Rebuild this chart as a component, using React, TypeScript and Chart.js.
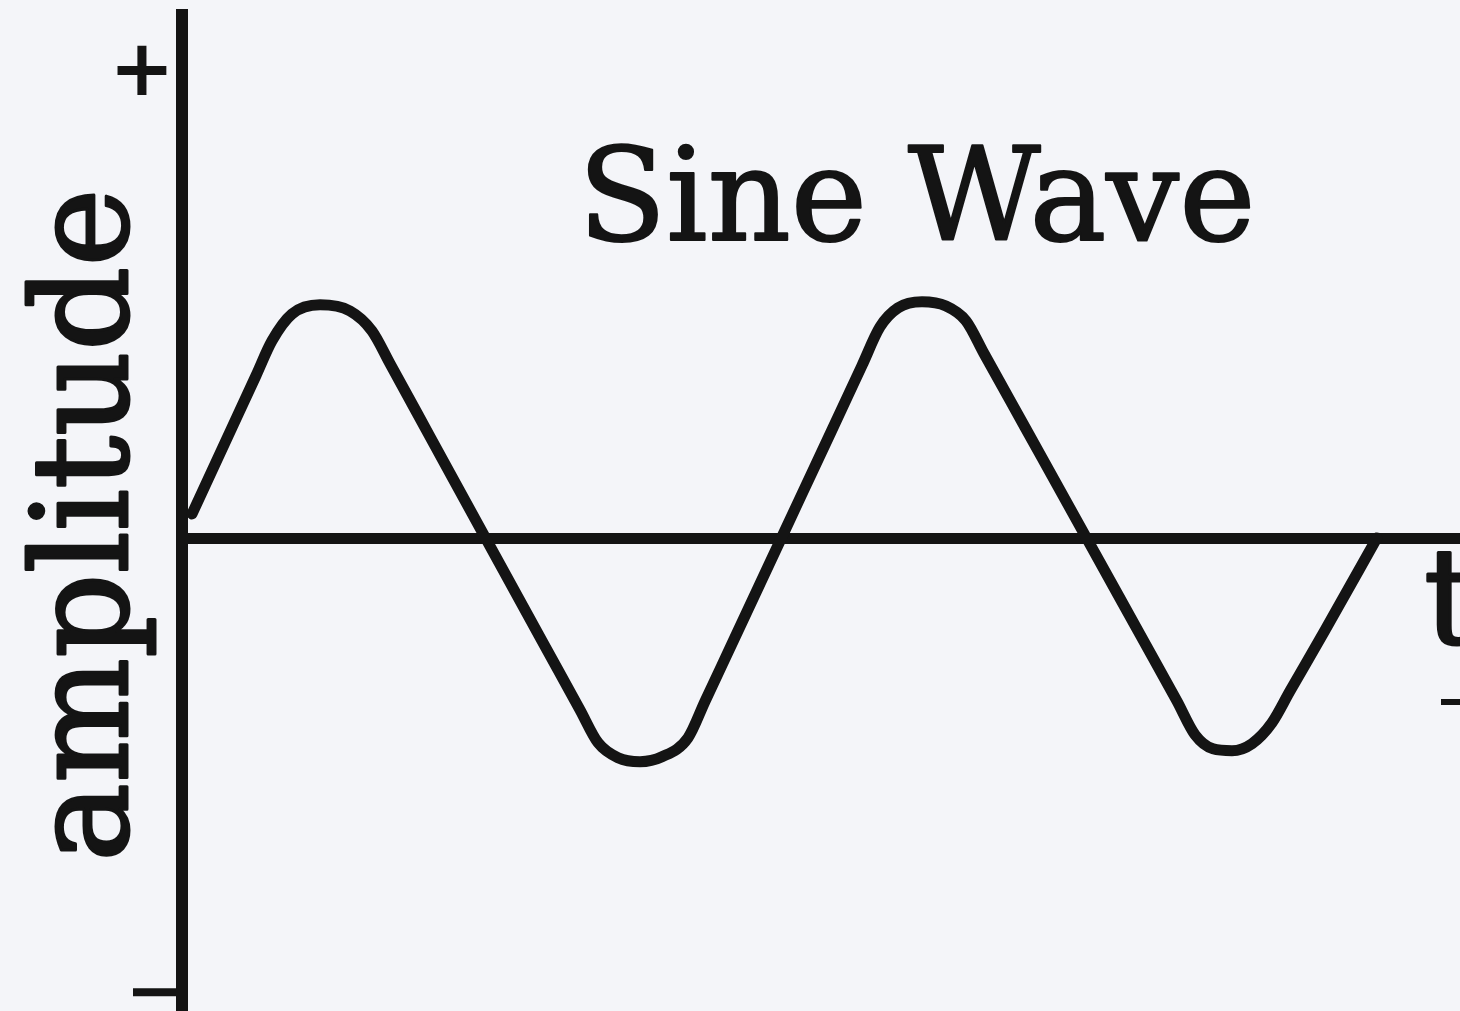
import { useEffect, useRef } from "react";
import { Chart, registerables } from "chart.js";

Chart.register(...registerables);

// Hand-traced wave: time (arbitrary units) and amplitude
const timeValues = [
  0.10, 0.50, 0.74, 0.90, 1.10, 1.38, 1.68, 1.90, 2.08, 2.47, 3.04, 3.60, 3.98,
  4.16, 4.36, 4.58, 4.80, 5.06, 5.23, 5.54, 5.99, 6.48, 6.80,
  6.98, 7.16, 7.40, 7.64, 7.84, 8.02, 8.43, 9.05, 9.58, 9.95,
  10.13, 10.31, 10.50, 10.70, 10.90, 11.08, 11.43, 11.95,
];
const amplitudeValues = [
  0.106, 0.474, 0.695, 0.843, 0.957, 0.996, 0.970, 0.885, 0.746, 0.443, 0.0, -0.434, -0.728,
  -0.868, -0.932, -0.949, -0.928, -0.847, -0.692, -0.410, 0.0, 0.446, 0.738,
  0.902, 0.983, 1.009, 0.991, 0.928, 0.789, 0.475, 0.0, -0.407, -0.691,
  -0.834, -0.894, -0.902, -0.872, -0.783, -0.648, -0.389, 0.004,
];

// Axis ranges and marks
const timeRange = [0, 12.78];
const amplitudeRange = [-2.01, 2.23];
const plusMark = 2.0;
const minusMark = -1.93;

const titleText = "Sine Wave";
const yAxisLabel = "amplitude";
const xAxisLabel = "t";

const INK = "#141414";
const PAPER = "#f4f5f9";

// Serif text with a slight stroke for a heavier print look
function inkText(ctx: CanvasRenderingContext2D, text: string, x: number, y: number, weight: number) {
  ctx.fillText(text, x, y);
  ctx.lineWidth = weight;
  ctx.lineJoin = "round";
  ctx.strokeText(text, x, y);
}

const decorPlugin = {
  id: "decor",
  beforeDraw(chart: any) {
    const { ctx, width, height } = chart;
    ctx.save();
    ctx.fillStyle = PAPER;
    ctx.fillRect(0, 0, width, height);
    ctx.restore();
  },
  afterDraw(chart: any) {
    const { ctx, chartArea, scales } = chart;
    const y = scales.y;
    const left = chartArea.left;
    ctx.save();
    ctx.fillStyle = INK;
    ctx.strokeStyle = INK;

    // "+" at the top of the amplitude axis
    ctx.font = "bold 78px 'DejaVu Sans'";
    ctx.textAlign = "center";
    ctx.textBaseline = "alphabetic";
    ctx.fillText("+", left - 40, y.getPixelForValue(plusMark) + 26);

    // "−" tick at the bottom of the amplitude axis
    ctx.lineWidth = 8;
    ctx.lineCap = "butt";
    const my = y.getPixelForValue(minusMark);
    ctx.beginPath();
    ctx.moveTo(left - 49, my);
    ctx.lineTo(left, my);
    ctx.stroke();

    // Title
    ctx.font = "129px 'DejaVu Serif'";
    ctx.textAlign = "left";
    inkText(ctx, titleText, 578, 240, 2);

    // Rotated amplitude label
    ctx.save();
    ctx.translate(127, 525);
    ctx.rotate(-Math.PI / 2);
    ctx.font = "132px 'DejaVu Serif'";
    ctx.textAlign = "center";
    inkText(ctx, yAxisLabel, 0, 0, 3);
    ctx.restore();

    // Time label at the right edge
    ctx.font = "132px 'DejaVu Serif'";
    ctx.textAlign = "left";
    inkText(ctx, xAxisLabel, 1424, 643, 3);
    ctx.lineWidth = 6;
    ctx.beginPath();
    ctx.moveTo(1441, 702);
    ctx.lineTo(1460, 702);
    ctx.stroke();

    ctx.restore();
  },
};

export default function App() {
  const canvasRef = useRef<HTMLCanvasElement | null>(null);

  useEffect(() => {
    const canvas = canvasRef.current;
    if (!canvas) return;
    const chart = new Chart(canvas, {
      type: "line",
      data: {
        datasets: [
          {
            data: timeValues.map((t, i) => ({ x: t, y: amplitudeValues[i] })),
            borderColor: INK,
            borderWidth: 11,
            pointRadius: 0,
            cubicInterpolationMode: "monotone",
            borderCapStyle: "round",
            borderJoinStyle: "round",
            fill: false,
          },
        ],
      },
      options: {
        responsive: false,
        animation: false,
        devicePixelRatio: 1,
        layout: { padding: { left: 182, top: 15, right: 0, bottom: 0 } },
        plugins: {
          legend: { display: false },
          tooltip: { enabled: false },
          title: { display: false },
        },
        scales: {
          x: {
            type: "linear",
            min: timeRange[0],
            max: timeRange[1],
            display: false,
          },
          y: {
            type: "linear",
            min: amplitudeRange[0],
            max: amplitudeRange[1],
            afterBuildTicks: (scale: any) => {
              scale.ticks = [{ value: 0 }];
            },
            afterFit: (scale: any) => {
              scale.width = 0;
            },
            ticks: { display: false },
            border: { display: true, color: INK, width: 12 },
            grid: {
              drawTicks: false,
              color: (c: any) => (c.tick && c.tick.value === 0 ? INK : "rgba(0,0,0,0)"),
              lineWidth: 11,
            },
          },
        },
      },
      plugins: [decorPlugin],
    });
    return () => chart.destroy();
  }, []);

  return (
    <div style={{ position: "fixed", left: 0, top: 0, width: 1460, height: 1011, background: PAPER }}>
      <canvas ref={canvasRef} width={1460} height={1011} />
    </div>
  );
}
